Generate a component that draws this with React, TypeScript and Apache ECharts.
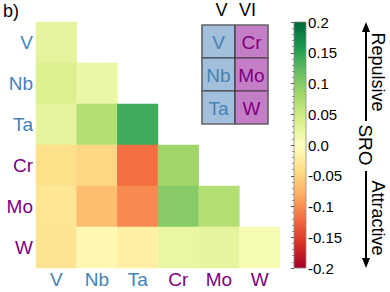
import React, { useEffect, useRef } from "react";
import * as echarts from "echarts";

const elements = ["V", "Nb", "Ta", "Cr", "Mo", "W"];
const groupV = ["V", "Nb", "Ta"];
const groupVI = ["Cr", "Mo", "W"];
// lower-triangle SRO values, row by row (row element vs column element)
const rowV = [0.027];
const rowNb = [0.037, 0.021];
const rowTa = [0.026, 0.069, 0.14];
const rowCr = [-0.04, -0.047, -0.12, 0.084];
const rowMo = [-0.032, -0.067, -0.103, 0.1, 0.069];
const rowW = [-0.035, -0.01, -0.019, 0.022, 0.026, 0.01];
const rows = [rowV, rowNb, rowTa, rowCr, rowMo, rowW];
const cbarTickLabels = ["-0.2", "-0.15", "-0.1", "-0.05", "0.0", "0.05", "0.1", "0.15", "0.2"];
const rdYlGn = ["#a50026", "#d73027", "#f46d43", "#fdae61", "#fee08b", "#ffffbf", "#d9ef8b", "#a6d96a", "#66bd63", "#1a9850", "#006837"];

const BLUE = "#4682b4";
const PURPLE = "#800080";
const FONT = "Liberation Sans, Arial, sans-serif";

export default function App() {
  const ref = useRef<HTMLDivElement>(null);
  useEffect(() => {
    if (!ref.current) return;
    const chart = echarts.init(ref.current, undefined, { renderer: "svg" });
    const data: number[][] = [];
    rows.forEach((r, yi) => r.forEach((v, xi) => data.push([xi, yi, v])));
    const labelColor = (val: any) => (groupV.includes(val) ? BLUE : PURPLE);

    const inset: any[] = [];
    const ix = [202, 235];
    const iy = [25, 58, 91];
    [groupV, groupVI].forEach((g, c) => {
      g.forEach((el, r) => {
        inset.push({
          type: "rect",
          shape: { x: ix[c], y: iy[r], width: 33, height: 33 },
          style: { fill: c === 0 ? "#a2bfdb" : "#c47ec6", stroke: "#3a3a3a", lineWidth: 1.2 },
        });
        inset.push({
          type: "text",
          x: ix[c] + 16.5,
          y: iy[r] + 17,
          style: { text: el, fill: c === 0 ? BLUE : PURPLE, font: `19px ${FONT}`, align: "center", verticalAlign: "middle" },
        });
      });
    });

    chart.setOption({
      animation: false,
      textStyle: { fontFamily: FONT },
      grid: [
        { left: 36, top: 22, width: 244, height: 246 },
        { left: 294, top: 22, width: 12, height: 246 },
      ],
      xAxis: [
        {
          type: "category",
          data: elements,
          gridIndex: 0,
          axisLine: { show: false },
          axisTick: { show: false },
          splitLine: { show: false },
          axisLabel: { fontSize: 19, margin: 2, color: labelColor, fontFamily: FONT },
        },
        { type: "value", gridIndex: 1, show: false, min: 0, max: 1 },
      ],
      yAxis: [
        {
          type: "category",
          data: elements,
          inverse: true,
          gridIndex: 0,
          axisLine: { show: false },
          axisTick: { show: false },
          splitLine: { show: false },
          axisLabel: { fontSize: 19, margin: 3, color: labelColor, fontFamily: FONT },
        },
        {
          type: "value",
          gridIndex: 1,
          position: "right",
          min: -0.2,
          max: 0.2,
          interval: 0.05,
          axisLine: { show: false },
          axisTick: { show: true, inside: true, length: 3, lineStyle: { color: "#333", width: 0.8 } },
          minorTick: { show: true, splitNumber: 5, length: 2, lineStyle: { color: "#555", width: 0.6 } },
          splitLine: { show: false },
          axisLabel: {
            fontSize: 15,
            margin: 2,
            color: "#000",
            fontFamily: FONT,
            formatter: (v: number) => cbarTickLabels[Math.round((v + 0.2) / 0.05)] ?? "",
          },
          z: 10,
        },
      ],
      visualMap: {
        show: false,
        min: -0.2,
        max: 0.2,
        seriesIndex: 0,
        inRange: { color: rdYlGn },
      },
      series: [
        {
          type: "heatmap",
          xAxisIndex: 0,
          yAxisIndex: 0,
          data,
          itemStyle: { borderWidth: 0 },
          emphasis: { disabled: true },
        },
      ],
      graphic: [
        {
          type: "rect",
          z: 1,
          shape: { x: 294, y: 22, width: 12, height: 246 },
          style: {
            fill: {
              type: "linear",
              x: 0,
              y: 1,
              x2: 0,
              y2: 0,
              colorStops: rdYlGn.map((c, i) => ({ offset: i / (rdYlGn.length - 1), color: c })),
            },
            stroke: "#8a8a8a",
            lineWidth: 0.8,
          },
        },
        { type: "text", x: 3, y: 2, style: { text: "b)", font: `18px ${FONT}`, fill: "#000" } },
        { type: "text", x: 221.5, y: 10, style: { text: "V", font: `18px ${FONT}`, fill: "#000", align: "center", verticalAlign: "middle" } },
        { type: "text", x: 247.5, y: 10, style: { text: "VI", font: `18px ${FONT}`, fill: "#000", align: "center", verticalAlign: "middle" } },
        ...inset,
        { type: "rect", shape: { x: 202, y: 25, width: 66, height: 99 }, style: { fill: "none", stroke: "#777", lineWidth: 1.2 } },
        { type: "text", x: 365, y: 145, rotation: -Math.PI / 2, style: { text: "SRO", font: `19px ${FONT}`, fill: "#000", align: "center", verticalAlign: "middle" } },
        { type: "text", x: 378, y: 72, rotation: -Math.PI / 2, style: { text: "Repulsive", font: `18px ${FONT}`, fill: "#000", align: "center", verticalAlign: "middle" } },
        { type: "text", x: 378, y: 218, rotation: -Math.PI / 2, style: { text: "Attractive", font: `18px ${FONT}`, fill: "#000", align: "center", verticalAlign: "middle" } },
        { type: "line", shape: { x1: 366, y1: 121, x2: 366, y2: 30 }, style: { stroke: "#000", lineWidth: 2 } },
        { type: "polygon", shape: { points: [[366, 22], [362, 32], [370, 32]] }, style: { fill: "#000" } },
        { type: "line", shape: { x1: 366, y1: 171, x2: 366, y2: 260 }, style: { stroke: "#000", lineWidth: 2 } },
        { type: "polygon", shape: { points: [[366, 268], [362, 258], [370, 258]] }, style: { fill: "#000" } },
      ],
    });
    return () => chart.dispose();
  }, []);
  return <div ref={ref} style={{ width: 390, height: 292, position: "absolute", left: 0, top: 0 }} />;
}
